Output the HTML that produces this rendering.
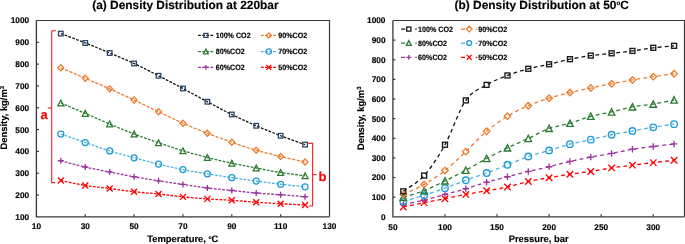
<!DOCTYPE html><html><head><meta charset="utf-8"><style>html,body{margin:0;padding:0;background:#fff;overflow:hidden}svg{display:block;will-change:transform}text{font-family:"Liberation Sans",sans-serif;font-weight:bold;text-rendering:geometricPrecision;stroke:#000;stroke-width:0.15px}</style></head><body>
<svg width="685" height="244" viewBox="0 0 685 244">
<rect width="685" height="244" fill="#fff"/>
<text x="185.4" y="8.6" font-size="11.9" text-anchor="middle" fill="#000">(a) Density Distribution at 220bar</text>
<text x="541.7" y="9.3" font-size="11.9" text-anchor="middle" fill="#000">(b) Density Distribution at 50<tspan font-size="6.2" dy="-4.1">o</tspan><tspan dy="4.1">C</tspan></text>
<path d="M36.4 20.5H329.5V216.8" fill="none" stroke="#383838" stroke-width="1.2"/>
<path d="M36.4 20.5V216.8H329.5" fill="none" stroke="#383838" stroke-width="1.3"/>
<path d="M36.4 194.99h2.5" stroke="#383838" stroke-width="1.2"/>
<path d="M36.4 173.18h2.5" stroke="#383838" stroke-width="1.2"/>
<path d="M36.4 151.37h2.5" stroke="#383838" stroke-width="1.2"/>
<path d="M36.4 129.56h2.5" stroke="#383838" stroke-width="1.2"/>
<path d="M36.4 107.74h2.5" stroke="#383838" stroke-width="1.2"/>
<path d="M36.4 85.93h2.5" stroke="#383838" stroke-width="1.2"/>
<path d="M36.4 64.12h2.5" stroke="#383838" stroke-width="1.2"/>
<path d="M36.4 42.31h2.5" stroke="#383838" stroke-width="1.2"/>
<path d="M85.25 216.8v-2.6" stroke="#383838" stroke-width="1.2"/>
<path d="M134.10 216.8v-2.6" stroke="#383838" stroke-width="1.2"/>
<path d="M182.95 216.8v-2.6" stroke="#383838" stroke-width="1.2"/>
<path d="M231.80 216.8v-2.6" stroke="#383838" stroke-width="1.2"/>
<path d="M280.65 216.8v-2.6" stroke="#383838" stroke-width="1.2"/>
<text x="29.2" y="219.75" font-size="8.3" text-anchor="end">100</text>
<text x="29.2" y="197.94" font-size="8.3" text-anchor="end">200</text>
<text x="29.2" y="176.13" font-size="8.3" text-anchor="end">300</text>
<text x="29.2" y="154.32" font-size="8.3" text-anchor="end">400</text>
<text x="29.2" y="132.51" font-size="8.3" text-anchor="end">500</text>
<text x="29.2" y="110.69" font-size="8.3" text-anchor="end">600</text>
<text x="29.2" y="88.88" font-size="8.3" text-anchor="end">700</text>
<text x="29.2" y="67.07" font-size="8.3" text-anchor="end">800</text>
<text x="29.2" y="45.26" font-size="8.3" text-anchor="end">900</text>
<text x="29.2" y="23.45" font-size="8.3" text-anchor="end">1000</text>
<text x="36.40" y="229.4" font-size="8.3" text-anchor="middle">10</text>
<text x="85.25" y="229.4" font-size="8.3" text-anchor="middle">30</text>
<text x="134.10" y="229.4" font-size="8.3" text-anchor="middle">50</text>
<text x="182.95" y="229.4" font-size="8.3" text-anchor="middle">70</text>
<text x="231.80" y="229.4" font-size="8.3" text-anchor="middle">90</text>
<text x="280.65" y="229.4" font-size="8.3" text-anchor="middle">110</text>
<text x="329.50" y="229.4" font-size="8.3" text-anchor="middle">130</text>
<text x="182.8" y="241.9" font-size="9.4" text-anchor="middle">Temperature, <tspan font-size="5" dy="-3.3">o</tspan><tspan dy="3.3">C</tspan></text>
<text transform="translate(6.9 117.7) rotate(-90)" font-size="9.4" text-anchor="middle">Density, kg/m<tspan font-size="6" dy="-3.3">3</tspan></text>
<path d="M392.9 20.5H684.5V216.8" fill="none" stroke="#383838" stroke-width="1.2"/>
<path d="M392.9 20.5V216.8H684.5" fill="none" stroke="#383838" stroke-width="1.3"/>
<path d="M392.9 197.17h2.5" stroke="#383838" stroke-width="1.2"/>
<path d="M392.9 177.54h2.5" stroke="#383838" stroke-width="1.2"/>
<path d="M392.9 157.91h2.5" stroke="#383838" stroke-width="1.2"/>
<path d="M392.9 138.28h2.5" stroke="#383838" stroke-width="1.2"/>
<path d="M392.9 118.65h2.5" stroke="#383838" stroke-width="1.2"/>
<path d="M392.9 99.02h2.5" stroke="#383838" stroke-width="1.2"/>
<path d="M392.9 79.39h2.5" stroke="#383838" stroke-width="1.2"/>
<path d="M392.9 59.76h2.5" stroke="#383838" stroke-width="1.2"/>
<path d="M392.9 40.13h2.5" stroke="#383838" stroke-width="1.2"/>
<path d="M444.97 216.8v-2.6" stroke="#383838" stroke-width="1.2"/>
<path d="M497.04 216.8v-2.6" stroke="#383838" stroke-width="1.2"/>
<path d="M549.11 216.8v-2.6" stroke="#383838" stroke-width="1.2"/>
<path d="M601.19 216.8v-2.6" stroke="#383838" stroke-width="1.2"/>
<path d="M653.26 216.8v-2.6" stroke="#383838" stroke-width="1.2"/>
<text x="385.5" y="219.75" font-size="8.3" text-anchor="end">0</text>
<text x="385.5" y="200.12" font-size="8.3" text-anchor="end">100</text>
<text x="385.5" y="180.49" font-size="8.3" text-anchor="end">200</text>
<text x="385.5" y="160.86" font-size="8.3" text-anchor="end">300</text>
<text x="385.5" y="141.23" font-size="8.3" text-anchor="end">400</text>
<text x="385.5" y="121.60" font-size="8.3" text-anchor="end">500</text>
<text x="385.5" y="101.97" font-size="8.3" text-anchor="end">600</text>
<text x="385.5" y="82.34" font-size="8.3" text-anchor="end">700</text>
<text x="385.5" y="62.71" font-size="8.3" text-anchor="end">800</text>
<text x="385.5" y="43.08" font-size="8.3" text-anchor="end">900</text>
<text x="385.5" y="23.45" font-size="8.3" text-anchor="end">1000</text>
<text x="392.90" y="229.7" font-size="8.3" text-anchor="middle">50</text>
<text x="444.97" y="229.7" font-size="8.3" text-anchor="middle">100</text>
<text x="497.04" y="229.7" font-size="8.3" text-anchor="middle">150</text>
<text x="549.11" y="229.7" font-size="8.3" text-anchor="middle">200</text>
<text x="601.19" y="229.7" font-size="8.3" text-anchor="middle">250</text>
<text x="653.26" y="229.7" font-size="8.3" text-anchor="middle">300</text>
<text x="538.6" y="241.9" font-size="9.4" text-anchor="middle">Pressure, bar</text>
<text transform="translate(363.9 118.3) rotate(-90)" font-size="9.4" text-anchor="middle">Density, kg/m<tspan font-size="6" dy="-3.3">3</tspan></text>
<path d="M60.83 180.50C64.90 181.33 77.11 184.17 85.25 185.50C93.39 186.83 101.53 187.46 109.68 188.50C117.82 189.54 125.96 190.83 134.10 191.75C142.24 192.67 150.38 193.14 158.53 194.00C166.67 194.86 174.81 196.08 182.95 196.90C191.09 197.72 199.23 198.33 207.38 198.90C215.52 199.47 223.66 199.74 231.80 200.30C239.94 200.86 248.08 201.68 256.23 202.25C264.37 202.82 272.51 203.29 280.65 203.75C288.79 204.21 301.00 204.79 305.07 205.00" fill="none" stroke="#FF0000" stroke-width="1.3" stroke-dasharray="2.7 1.4"/>
<path d="M60.83 160.75C64.90 161.79 77.11 165.12 85.25 167.00C93.39 168.88 101.53 170.38 109.68 172.00C117.82 173.62 125.96 175.28 134.10 176.75C142.24 178.22 150.38 179.53 158.53 180.80C166.67 182.08 174.81 183.20 182.95 184.40C191.09 185.60 199.23 186.98 207.38 188.00C215.52 189.02 223.66 189.67 231.80 190.50C239.94 191.33 248.08 192.29 256.23 193.00C264.37 193.71 272.51 194.12 280.65 194.75C288.79 195.38 301.00 196.42 305.07 196.75" fill="none" stroke="#9C31A0" stroke-width="1.3" stroke-dasharray="2.7 1.4"/>
<path d="M60.83 134.00C64.90 135.42 77.11 139.68 85.25 142.50C93.39 145.32 101.53 148.36 109.68 150.90C117.82 153.44 125.96 155.55 134.10 157.75C142.24 159.95 150.38 162.12 158.53 164.10C166.67 166.07 174.81 167.98 182.95 169.60C191.09 171.22 199.23 172.45 207.38 173.80C215.52 175.15 223.66 176.50 231.80 177.70C239.94 178.90 248.08 179.91 256.23 181.00C264.37 182.09 272.51 183.28 280.65 184.25C288.79 185.22 301.00 186.38 305.07 186.80" fill="none" stroke="#4DB0E4" stroke-width="1.3" stroke-dasharray="2.7 1.4"/>
<path d="M60.83 103.00C64.90 104.73 77.11 109.90 85.25 113.40C93.39 116.90 101.53 120.57 109.68 124.00C117.82 127.43 125.96 130.88 134.10 134.00C142.24 137.12 150.38 139.96 158.53 142.75C166.67 145.54 174.81 148.29 182.95 150.75C191.09 153.21 199.23 155.42 207.38 157.50C215.52 159.58 223.66 161.50 231.80 163.25C239.94 165.00 248.08 166.46 256.23 168.00C264.37 169.54 272.51 171.21 280.65 172.50C288.79 173.79 301.00 175.21 305.07 175.75" fill="none" stroke="#2B7B30" stroke-width="1.3" stroke-dasharray="2.7 1.4"/>
<path d="M60.83 67.75C64.90 69.50 77.11 74.74 85.25 78.25C93.39 81.76 101.53 85.17 109.68 88.80C117.82 92.42 125.96 96.17 134.10 100.00C142.24 103.83 150.38 107.88 158.53 111.75C166.67 115.62 174.81 119.67 182.95 123.25C191.09 126.83 199.23 130.08 207.38 133.25C215.52 136.42 223.66 139.42 231.80 142.25C239.94 145.08 248.08 147.88 256.23 150.25C264.37 152.62 272.51 154.54 280.65 156.50C288.79 158.46 301.00 161.08 305.07 162.00" fill="none" stroke="#ED7D31" stroke-width="1.3" stroke-dasharray="3.3 1.4"/>
<path d="M60.83 33.60C64.90 35.17 77.11 39.77 85.25 43.00C93.39 46.23 101.53 49.58 109.68 53.00C117.82 56.42 125.96 59.71 134.10 63.50C142.24 67.29 150.38 71.58 158.53 75.75C166.67 79.92 174.81 84.17 182.95 88.50C191.09 92.83 199.23 97.42 207.38 101.75C215.52 106.08 223.66 110.50 231.80 114.50C239.94 118.50 248.08 122.21 256.23 125.75C264.37 129.29 272.51 132.61 280.65 135.75C288.79 138.89 301.00 143.12 305.07 144.60" fill="none" stroke="#111" stroke-width="1.3" stroke-dasharray="2.7 1.4"/>
<path d="M57.83 177.50L63.83 183.50M63.83 177.50L57.83 183.50" stroke="#FF0000" stroke-width="1.3"/>
<path d="M82.25 182.50L88.25 188.50M88.25 182.50L82.25 188.50" stroke="#FF0000" stroke-width="1.3"/>
<path d="M106.68 185.50L112.68 191.50M112.68 185.50L106.68 191.50" stroke="#FF0000" stroke-width="1.3"/>
<path d="M131.10 188.75L137.10 194.75M137.10 188.75L131.10 194.75" stroke="#FF0000" stroke-width="1.3"/>
<path d="M155.53 191.00L161.53 197.00M161.53 191.00L155.53 197.00" stroke="#FF0000" stroke-width="1.3"/>
<path d="M179.95 193.90L185.95 199.90M185.95 193.90L179.95 199.90" stroke="#FF0000" stroke-width="1.3"/>
<path d="M204.38 195.90L210.38 201.90M210.38 195.90L204.38 201.90" stroke="#FF0000" stroke-width="1.3"/>
<path d="M228.80 197.30L234.80 203.30M234.80 197.30L228.80 203.30" stroke="#FF0000" stroke-width="1.3"/>
<path d="M253.23 199.25L259.23 205.25M259.23 199.25L253.23 205.25" stroke="#FF0000" stroke-width="1.3"/>
<path d="M277.65 200.75L283.65 206.75M283.65 200.75L277.65 206.75" stroke="#FF0000" stroke-width="1.3"/>
<path d="M302.07 202.00L308.07 208.00M308.07 202.00L302.07 208.00" stroke="#FF0000" stroke-width="1.3"/>
<path d="M57.83 160.75H63.83M60.83 157.75V163.75" stroke="#9C31A0" stroke-width="1.3"/>
<path d="M82.25 167.00H88.25M85.25 164.00V170.00" stroke="#9C31A0" stroke-width="1.3"/>
<path d="M106.68 172.00H112.68M109.68 169.00V175.00" stroke="#9C31A0" stroke-width="1.3"/>
<path d="M131.10 176.75H137.10M134.10 173.75V179.75" stroke="#9C31A0" stroke-width="1.3"/>
<path d="M155.53 180.80H161.53M158.53 177.80V183.80" stroke="#9C31A0" stroke-width="1.3"/>
<path d="M179.95 184.40H185.95M182.95 181.40V187.40" stroke="#9C31A0" stroke-width="1.3"/>
<path d="M204.38 188.00H210.38M207.38 185.00V191.00" stroke="#9C31A0" stroke-width="1.3"/>
<path d="M228.80 190.50H234.80M231.80 187.50V193.50" stroke="#9C31A0" stroke-width="1.3"/>
<path d="M253.23 193.00H259.23M256.23 190.00V196.00" stroke="#9C31A0" stroke-width="1.3"/>
<path d="M277.65 194.75H283.65M280.65 191.75V197.75" stroke="#9C31A0" stroke-width="1.3"/>
<path d="M302.07 196.75H308.07M305.07 193.75V199.75" stroke="#9C31A0" stroke-width="1.3"/>
<circle cx="60.83" cy="134.00" r="3.00" fill="none" stroke="#1E9BD7" stroke-width="1.25"/>
<circle cx="85.25" cy="142.50" r="3.00" fill="none" stroke="#1E9BD7" stroke-width="1.25"/>
<circle cx="109.68" cy="150.90" r="3.00" fill="none" stroke="#1E9BD7" stroke-width="1.25"/>
<circle cx="134.10" cy="157.75" r="3.00" fill="none" stroke="#1E9BD7" stroke-width="1.25"/>
<circle cx="158.53" cy="164.10" r="3.00" fill="none" stroke="#1E9BD7" stroke-width="1.25"/>
<circle cx="182.95" cy="169.60" r="3.00" fill="none" stroke="#1E9BD7" stroke-width="1.25"/>
<circle cx="207.38" cy="173.80" r="3.00" fill="none" stroke="#1E9BD7" stroke-width="1.25"/>
<circle cx="231.80" cy="177.70" r="3.00" fill="none" stroke="#1E9BD7" stroke-width="1.25"/>
<circle cx="256.23" cy="181.00" r="3.00" fill="none" stroke="#1E9BD7" stroke-width="1.25"/>
<circle cx="280.65" cy="184.25" r="3.00" fill="none" stroke="#1E9BD7" stroke-width="1.25"/>
<circle cx="305.07" cy="186.80" r="3.00" fill="none" stroke="#1E9BD7" stroke-width="1.25"/>
<path d="M60.83 100.00L63.83 105.85L57.83 105.85Z" fill="none" stroke="#2B7B30" stroke-width="1.25" stroke-linejoin="miter"/>
<path d="M85.25 110.40L88.25 116.25L82.25 116.25Z" fill="none" stroke="#2B7B30" stroke-width="1.25" stroke-linejoin="miter"/>
<path d="M109.68 121.00L112.68 126.85L106.68 126.85Z" fill="none" stroke="#2B7B30" stroke-width="1.25" stroke-linejoin="miter"/>
<path d="M134.10 131.00L137.10 136.85L131.10 136.85Z" fill="none" stroke="#2B7B30" stroke-width="1.25" stroke-linejoin="miter"/>
<path d="M158.53 139.75L161.53 145.60L155.53 145.60Z" fill="none" stroke="#2B7B30" stroke-width="1.25" stroke-linejoin="miter"/>
<path d="M182.95 147.75L185.95 153.60L179.95 153.60Z" fill="none" stroke="#2B7B30" stroke-width="1.25" stroke-linejoin="miter"/>
<path d="M207.38 154.50L210.38 160.35L204.38 160.35Z" fill="none" stroke="#2B7B30" stroke-width="1.25" stroke-linejoin="miter"/>
<path d="M231.80 160.25L234.80 166.10L228.80 166.10Z" fill="none" stroke="#2B7B30" stroke-width="1.25" stroke-linejoin="miter"/>
<path d="M256.23 165.00L259.23 170.85L253.23 170.85Z" fill="none" stroke="#2B7B30" stroke-width="1.25" stroke-linejoin="miter"/>
<path d="M280.65 169.50L283.65 175.35L277.65 175.35Z" fill="none" stroke="#2B7B30" stroke-width="1.25" stroke-linejoin="miter"/>
<path d="M305.07 172.75L308.07 178.60L302.07 178.60Z" fill="none" stroke="#2B7B30" stroke-width="1.25" stroke-linejoin="miter"/>
<path d="M60.83 64.75L63.83 67.75L60.83 70.75L57.83 67.75Z" fill="none" stroke="#ED7D31" stroke-width="1.25"/>
<path d="M85.25 75.25L88.25 78.25L85.25 81.25L82.25 78.25Z" fill="none" stroke="#ED7D31" stroke-width="1.25"/>
<path d="M109.68 85.80L112.68 88.80L109.68 91.80L106.68 88.80Z" fill="none" stroke="#ED7D31" stroke-width="1.25"/>
<path d="M134.10 97.00L137.10 100.00L134.10 103.00L131.10 100.00Z" fill="none" stroke="#ED7D31" stroke-width="1.25"/>
<path d="M158.53 108.75L161.53 111.75L158.53 114.75L155.53 111.75Z" fill="none" stroke="#ED7D31" stroke-width="1.25"/>
<path d="M182.95 120.25L185.95 123.25L182.95 126.25L179.95 123.25Z" fill="none" stroke="#ED7D31" stroke-width="1.25"/>
<path d="M207.38 130.25L210.38 133.25L207.38 136.25L204.38 133.25Z" fill="none" stroke="#ED7D31" stroke-width="1.25"/>
<path d="M231.80 139.25L234.80 142.25L231.80 145.25L228.80 142.25Z" fill="none" stroke="#ED7D31" stroke-width="1.25"/>
<path d="M256.23 147.25L259.23 150.25L256.23 153.25L253.23 150.25Z" fill="none" stroke="#ED7D31" stroke-width="1.25"/>
<path d="M280.65 153.50L283.65 156.50L280.65 159.50L277.65 156.50Z" fill="none" stroke="#ED7D31" stroke-width="1.25"/>
<path d="M305.07 159.00L308.07 162.00L305.07 165.00L302.07 162.00Z" fill="none" stroke="#ED7D31" stroke-width="1.25"/>
<rect x="58.53" y="31.30" width="4.60" height="4.60" fill="none" stroke="#233F62" stroke-width="1.25"/>
<rect x="82.95" y="40.70" width="4.60" height="4.60" fill="none" stroke="#233F62" stroke-width="1.25"/>
<rect x="107.38" y="50.70" width="4.60" height="4.60" fill="none" stroke="#233F62" stroke-width="1.25"/>
<rect x="131.80" y="61.20" width="4.60" height="4.60" fill="none" stroke="#233F62" stroke-width="1.25"/>
<rect x="156.22" y="73.45" width="4.60" height="4.60" fill="none" stroke="#233F62" stroke-width="1.25"/>
<rect x="180.65" y="86.20" width="4.60" height="4.60" fill="none" stroke="#233F62" stroke-width="1.25"/>
<rect x="205.07" y="99.45" width="4.60" height="4.60" fill="none" stroke="#233F62" stroke-width="1.25"/>
<rect x="229.50" y="112.20" width="4.60" height="4.60" fill="none" stroke="#233F62" stroke-width="1.25"/>
<rect x="253.93" y="123.45" width="4.60" height="4.60" fill="none" stroke="#233F62" stroke-width="1.25"/>
<rect x="278.35" y="133.45" width="4.60" height="4.60" fill="none" stroke="#233F62" stroke-width="1.25"/>
<rect x="302.77" y="142.30" width="4.60" height="4.60" fill="none" stroke="#233F62" stroke-width="1.25"/>
<path d="M403.31 206.99C406.79 206.27 417.20 204.04 424.14 202.67C431.09 201.29 438.03 200.11 444.97 198.74C451.91 197.37 458.86 195.76 465.80 194.42C472.74 193.08 479.69 191.94 486.63 190.69C493.57 189.45 500.51 188.50 507.46 186.96C514.40 185.42 521.34 183.00 528.29 181.47C535.23 179.93 542.17 178.95 549.11 177.74C556.06 176.53 563.00 175.25 569.94 174.20C576.89 173.16 583.83 172.50 590.77 171.45C597.71 170.41 604.66 168.97 611.60 167.92C618.54 166.87 625.49 166.06 632.43 165.17C639.37 164.29 646.31 163.44 653.26 162.62C660.20 161.80 670.61 160.66 674.09 160.27" fill="none" stroke="#FF0000" stroke-width="1.3" stroke-dasharray="3.8 3.2"/>
<path d="M403.31 204.43C406.79 203.71 417.20 201.78 424.14 200.11C431.09 198.45 438.03 196.32 444.97 194.42C451.91 192.52 458.86 190.76 465.80 188.73C472.74 186.70 479.69 184.25 486.63 182.25C493.57 180.26 500.51 178.55 507.46 176.75C514.40 174.96 521.34 173.12 528.29 171.45C535.23 169.79 542.17 168.41 549.11 166.74C556.06 165.07 563.00 163.05 569.94 161.44C576.89 159.84 583.83 158.47 590.77 157.12C597.71 155.78 604.66 154.70 611.60 153.40C618.54 152.09 625.49 150.42 632.43 149.27C639.37 148.13 646.31 147.41 653.26 146.52C660.20 145.64 670.61 144.40 674.09 143.97" fill="none" stroke="#9C31A0" stroke-width="1.3" stroke-dasharray="3.8 3.2"/>
<path d="M403.31 201.49C406.79 200.44 417.20 197.43 424.14 195.21C431.09 192.98 438.03 190.63 444.97 188.14C451.91 185.65 458.86 182.81 465.80 180.29C472.74 177.77 479.69 175.61 486.63 173.03C493.57 170.44 500.51 167.53 507.46 164.78C514.40 162.03 521.34 158.92 528.29 156.54C535.23 154.15 542.17 152.51 549.11 150.45C556.06 148.39 563.00 145.97 569.94 144.17C576.89 142.37 583.83 141.22 590.77 139.65C597.71 138.08 604.66 136.19 611.60 134.75C618.54 133.31 625.49 132.26 632.43 131.02C639.37 129.77 646.31 128.43 653.26 127.29C660.20 126.14 670.61 124.67 674.09 124.15" fill="none" stroke="#4DB0E4" stroke-width="1.3" stroke-dasharray="3.8 3.2"/>
<path d="M403.31 197.17C406.79 196.09 417.20 193.41 424.14 190.69C431.09 187.98 438.03 184.28 444.97 180.88C451.91 177.47 458.86 174.01 465.80 170.28C472.74 166.55 479.69 162.23 486.63 158.50C493.57 154.77 500.51 151.24 507.46 147.90C514.40 144.56 521.34 141.72 528.29 138.48C535.23 135.24 542.17 130.98 549.11 128.47C556.06 125.95 563.00 125.39 569.94 123.36C576.89 121.33 583.83 118.19 590.77 116.29C597.71 114.40 604.66 113.55 611.60 111.98C618.54 110.41 625.49 108.18 632.43 106.87C639.37 105.56 646.31 105.27 653.26 104.12C660.20 102.98 670.61 100.69 674.09 100.00" fill="none" stroke="#2B7B30" stroke-width="1.3" stroke-dasharray="3.8 3.2"/>
<path d="M403.31 194.42C406.79 192.75 417.20 188.40 424.14 184.41C431.09 180.42 438.03 175.94 444.97 170.47C451.91 165.01 458.86 158.17 465.80 151.63C472.74 145.09 479.69 137.10 486.63 131.21C493.57 125.32 500.51 120.55 507.46 116.29C514.40 112.04 521.34 108.70 528.29 105.69C535.23 102.68 542.17 100.43 549.11 98.23C556.06 96.04 563.00 94.24 569.94 92.54C576.89 90.84 583.83 89.50 590.77 88.03C597.71 86.55 604.66 85.05 611.60 83.71C618.54 82.37 625.49 81.16 632.43 79.98C639.37 78.80 646.31 77.69 653.26 76.64C660.20 75.59 670.61 74.19 674.09 73.70" fill="none" stroke="#ED7D31" stroke-width="1.3" stroke-dasharray="3.8 3.2"/>
<path d="M403.31 191.28C406.79 188.66 417.20 183.33 424.14 175.58C431.09 167.82 438.03 157.29 444.97 144.76C451.91 132.23 458.86 110.37 465.80 100.39C472.74 90.42 479.69 89.04 486.63 84.89C493.57 80.73 500.51 78.15 507.46 75.46C514.40 72.78 521.34 70.65 528.29 68.79C535.23 66.92 542.17 65.88 549.11 64.27C556.06 62.67 563.00 60.61 569.94 59.17C576.89 57.73 583.83 56.62 590.77 55.64C597.71 54.66 604.66 54.07 611.60 53.28C618.54 52.50 625.49 51.84 632.43 50.93C639.37 50.01 646.31 48.64 653.26 47.79C660.20 46.94 670.61 46.15 674.09 45.82" fill="none" stroke="#111" stroke-width="1.3" stroke-dasharray="3.8 3.2"/>
<path d="M400.07 203.75L406.55 210.23M406.55 203.75L400.07 210.23" stroke="#FF0000" stroke-width="1.3"/>
<path d="M420.90 199.43L427.38 205.91M427.38 199.43L420.90 205.91" stroke="#FF0000" stroke-width="1.3"/>
<path d="M441.73 195.50L448.21 201.98M448.21 195.50L441.73 201.98" stroke="#FF0000" stroke-width="1.3"/>
<path d="M462.56 191.18L469.04 197.66M469.04 191.18L462.56 197.66" stroke="#FF0000" stroke-width="1.3"/>
<path d="M483.39 187.45L489.87 193.93M489.87 187.45L483.39 193.93" stroke="#FF0000" stroke-width="1.3"/>
<path d="M504.22 183.72L510.70 190.20M510.70 183.72L504.22 190.20" stroke="#FF0000" stroke-width="1.3"/>
<path d="M525.05 178.23L531.53 184.71M531.53 178.23L525.05 184.71" stroke="#FF0000" stroke-width="1.3"/>
<path d="M545.87 174.50L552.35 180.98M552.35 174.50L545.87 180.98" stroke="#FF0000" stroke-width="1.3"/>
<path d="M566.70 170.96L573.18 177.44M573.18 170.96L566.70 177.44" stroke="#FF0000" stroke-width="1.3"/>
<path d="M587.53 168.21L594.01 174.69M594.01 168.21L587.53 174.69" stroke="#FF0000" stroke-width="1.3"/>
<path d="M608.36 164.68L614.84 171.16M614.84 164.68L608.36 171.16" stroke="#FF0000" stroke-width="1.3"/>
<path d="M629.19 161.93L635.67 168.41M635.67 161.93L629.19 168.41" stroke="#FF0000" stroke-width="1.3"/>
<path d="M650.02 159.38L656.50 165.86M656.50 159.38L650.02 165.86" stroke="#FF0000" stroke-width="1.3"/>
<path d="M670.85 157.03L677.33 163.51M677.33 157.03L670.85 163.51" stroke="#FF0000" stroke-width="1.3"/>
<path d="M400.07 204.43H406.55M403.31 201.19V207.67" stroke="#9C31A0" stroke-width="1.3"/>
<path d="M420.90 200.11H427.38M424.14 196.87V203.35" stroke="#9C31A0" stroke-width="1.3"/>
<path d="M441.73 194.42H448.21M444.97 191.18V197.66" stroke="#9C31A0" stroke-width="1.3"/>
<path d="M462.56 188.73H469.04M465.80 185.49V191.97" stroke="#9C31A0" stroke-width="1.3"/>
<path d="M483.39 182.25H489.87M486.63 179.01V185.49" stroke="#9C31A0" stroke-width="1.3"/>
<path d="M504.22 176.75H510.70M507.46 173.51V179.99" stroke="#9C31A0" stroke-width="1.3"/>
<path d="M525.05 171.45H531.53M528.29 168.21V174.69" stroke="#9C31A0" stroke-width="1.3"/>
<path d="M545.87 166.74H552.35M549.11 163.50V169.98" stroke="#9C31A0" stroke-width="1.3"/>
<path d="M566.70 161.44H573.18M569.94 158.20V164.68" stroke="#9C31A0" stroke-width="1.3"/>
<path d="M587.53 157.12H594.01M590.77 153.88V160.36" stroke="#9C31A0" stroke-width="1.3"/>
<path d="M608.36 153.40H614.84M611.60 150.16V156.64" stroke="#9C31A0" stroke-width="1.3"/>
<path d="M629.19 149.27H635.67M632.43 146.03V152.51" stroke="#9C31A0" stroke-width="1.3"/>
<path d="M650.02 146.52H656.50M653.26 143.28V149.76" stroke="#9C31A0" stroke-width="1.3"/>
<path d="M670.85 143.97H677.33M674.09 140.73V147.21" stroke="#9C31A0" stroke-width="1.3"/>
<circle cx="403.31" cy="201.49" r="3.24" fill="none" stroke="#1E9BD7" stroke-width="1.35"/>
<circle cx="424.14" cy="195.21" r="3.24" fill="none" stroke="#1E9BD7" stroke-width="1.35"/>
<circle cx="444.97" cy="188.14" r="3.24" fill="none" stroke="#1E9BD7" stroke-width="1.35"/>
<circle cx="465.80" cy="180.29" r="3.24" fill="none" stroke="#1E9BD7" stroke-width="1.35"/>
<circle cx="486.63" cy="173.03" r="3.24" fill="none" stroke="#1E9BD7" stroke-width="1.35"/>
<circle cx="507.46" cy="164.78" r="3.24" fill="none" stroke="#1E9BD7" stroke-width="1.35"/>
<circle cx="528.29" cy="156.54" r="3.24" fill="none" stroke="#1E9BD7" stroke-width="1.35"/>
<circle cx="549.11" cy="150.45" r="3.24" fill="none" stroke="#1E9BD7" stroke-width="1.35"/>
<circle cx="569.94" cy="144.17" r="3.24" fill="none" stroke="#1E9BD7" stroke-width="1.35"/>
<circle cx="590.77" cy="139.65" r="3.24" fill="none" stroke="#1E9BD7" stroke-width="1.35"/>
<circle cx="611.60" cy="134.75" r="3.24" fill="none" stroke="#1E9BD7" stroke-width="1.35"/>
<circle cx="632.43" cy="131.02" r="3.24" fill="none" stroke="#1E9BD7" stroke-width="1.35"/>
<circle cx="653.26" cy="127.29" r="3.24" fill="none" stroke="#1E9BD7" stroke-width="1.35"/>
<circle cx="674.09" cy="124.15" r="3.24" fill="none" stroke="#1E9BD7" stroke-width="1.35"/>
<path d="M403.31 193.93L406.55 200.25L400.07 200.25Z" fill="none" stroke="#2B7B30" stroke-width="1.35" stroke-linejoin="miter"/>
<path d="M424.14 187.45L427.38 193.77L420.90 193.77Z" fill="none" stroke="#2B7B30" stroke-width="1.35" stroke-linejoin="miter"/>
<path d="M444.97 177.64L448.21 183.96L441.73 183.96Z" fill="none" stroke="#2B7B30" stroke-width="1.35" stroke-linejoin="miter"/>
<path d="M465.80 167.04L469.04 173.35L462.56 173.35Z" fill="none" stroke="#2B7B30" stroke-width="1.35" stroke-linejoin="miter"/>
<path d="M486.63 155.26L489.87 161.58L483.39 161.58Z" fill="none" stroke="#2B7B30" stroke-width="1.35" stroke-linejoin="miter"/>
<path d="M507.46 144.66L510.70 150.98L504.22 150.98Z" fill="none" stroke="#2B7B30" stroke-width="1.35" stroke-linejoin="miter"/>
<path d="M528.29 135.24L531.53 141.55L525.05 141.55Z" fill="none" stroke="#2B7B30" stroke-width="1.35" stroke-linejoin="miter"/>
<path d="M549.11 125.23L552.35 131.54L545.87 131.54Z" fill="none" stroke="#2B7B30" stroke-width="1.35" stroke-linejoin="miter"/>
<path d="M569.94 120.12L573.18 126.44L566.70 126.44Z" fill="none" stroke="#2B7B30" stroke-width="1.35" stroke-linejoin="miter"/>
<path d="M590.77 113.05L594.01 119.37L587.53 119.37Z" fill="none" stroke="#2B7B30" stroke-width="1.35" stroke-linejoin="miter"/>
<path d="M611.60 108.74L614.84 115.05L608.36 115.05Z" fill="none" stroke="#2B7B30" stroke-width="1.35" stroke-linejoin="miter"/>
<path d="M632.43 103.63L635.67 109.95L629.19 109.95Z" fill="none" stroke="#2B7B30" stroke-width="1.35" stroke-linejoin="miter"/>
<path d="M653.26 100.88L656.50 107.20L650.02 107.20Z" fill="none" stroke="#2B7B30" stroke-width="1.35" stroke-linejoin="miter"/>
<path d="M674.09 96.76L677.33 103.08L670.85 103.08Z" fill="none" stroke="#2B7B30" stroke-width="1.35" stroke-linejoin="miter"/>
<path d="M403.31 191.18L406.55 194.42L403.31 197.66L400.07 194.42Z" fill="none" stroke="#ED7D31" stroke-width="1.35"/>
<path d="M424.14 181.17L427.38 184.41L424.14 187.65L420.90 184.41Z" fill="none" stroke="#ED7D31" stroke-width="1.35"/>
<path d="M444.97 167.23L448.21 170.47L444.97 173.71L441.73 170.47Z" fill="none" stroke="#ED7D31" stroke-width="1.35"/>
<path d="M465.80 148.39L469.04 151.63L465.80 154.87L462.56 151.63Z" fill="none" stroke="#ED7D31" stroke-width="1.35"/>
<path d="M486.63 127.97L489.87 131.21L486.63 134.45L483.39 131.21Z" fill="none" stroke="#ED7D31" stroke-width="1.35"/>
<path d="M507.46 113.05L510.70 116.29L507.46 119.53L504.22 116.29Z" fill="none" stroke="#ED7D31" stroke-width="1.35"/>
<path d="M528.29 102.45L531.53 105.69L528.29 108.93L525.05 105.69Z" fill="none" stroke="#ED7D31" stroke-width="1.35"/>
<path d="M549.11 94.99L552.35 98.23L549.11 101.47L545.87 98.23Z" fill="none" stroke="#ED7D31" stroke-width="1.35"/>
<path d="M569.94 89.30L573.18 92.54L569.94 95.78L566.70 92.54Z" fill="none" stroke="#ED7D31" stroke-width="1.35"/>
<path d="M590.77 84.79L594.01 88.03L590.77 91.27L587.53 88.03Z" fill="none" stroke="#ED7D31" stroke-width="1.35"/>
<path d="M611.60 80.47L614.84 83.71L611.60 86.95L608.36 83.71Z" fill="none" stroke="#ED7D31" stroke-width="1.35"/>
<path d="M632.43 76.74L635.67 79.98L632.43 83.22L629.19 79.98Z" fill="none" stroke="#ED7D31" stroke-width="1.35"/>
<path d="M653.26 73.40L656.50 76.64L653.26 79.88L650.02 76.64Z" fill="none" stroke="#ED7D31" stroke-width="1.35"/>
<path d="M674.09 70.46L677.33 73.70L674.09 76.94L670.85 73.70Z" fill="none" stroke="#ED7D31" stroke-width="1.35"/>
<rect x="400.83" y="188.80" width="4.97" height="4.97" fill="none" stroke="#1a1a1a" stroke-width="1.35"/>
<rect x="421.66" y="173.09" width="4.97" height="4.97" fill="none" stroke="#1a1a1a" stroke-width="1.35"/>
<rect x="442.49" y="142.27" width="4.97" height="4.97" fill="none" stroke="#1a1a1a" stroke-width="1.35"/>
<rect x="463.32" y="97.91" width="4.97" height="4.97" fill="none" stroke="#1a1a1a" stroke-width="1.35"/>
<rect x="484.14" y="82.40" width="4.97" height="4.97" fill="none" stroke="#1a1a1a" stroke-width="1.35"/>
<rect x="504.97" y="72.98" width="4.97" height="4.97" fill="none" stroke="#1a1a1a" stroke-width="1.35"/>
<rect x="525.80" y="66.31" width="4.97" height="4.97" fill="none" stroke="#1a1a1a" stroke-width="1.35"/>
<rect x="546.63" y="61.79" width="4.97" height="4.97" fill="none" stroke="#1a1a1a" stroke-width="1.35"/>
<rect x="567.46" y="56.69" width="4.97" height="4.97" fill="none" stroke="#1a1a1a" stroke-width="1.35"/>
<rect x="588.29" y="53.15" width="4.97" height="4.97" fill="none" stroke="#1a1a1a" stroke-width="1.35"/>
<rect x="609.12" y="50.80" width="4.97" height="4.97" fill="none" stroke="#1a1a1a" stroke-width="1.35"/>
<rect x="629.94" y="48.44" width="4.97" height="4.97" fill="none" stroke="#1a1a1a" stroke-width="1.35"/>
<rect x="650.77" y="45.30" width="4.97" height="4.97" fill="none" stroke="#1a1a1a" stroke-width="1.35"/>
<rect x="671.60" y="43.34" width="4.97" height="4.97" fill="none" stroke="#1a1a1a" stroke-width="1.35"/>
<path d="M55.7 30.6 L51.7 31.0 V182.6 H55.2" fill="none" stroke="#FF2020" stroke-width="1.1"/>
<path d="M47.8 108 H51.7" stroke="#FF2020" stroke-width="1.1"/>
<text x="40.6" y="119.1" font-size="13" fill="#FF0000" style="stroke:#FF0000">a</text>
<path d="M308.3 143.4 H312.6 V206.0 H308.5" fill="none" stroke="#FF2020" stroke-width="1.1"/>
<path d="M312.6 174.6 H316.6" stroke="#FF2020" stroke-width="1.1"/>
<text x="318.6" y="180.6" font-size="13" fill="#FF0000" style="stroke:#FF0000">b</text>
<path d="M198.1 35.4H213.4" stroke="#111" stroke-width="1.25" stroke-dasharray="2.8 1.3"/>
<rect x="203.88" y="33.38" width="4.05" height="4.05" fill="none" stroke="#233F62" stroke-width="1.2"/>
<text x="215.7" y="38.15" font-size="7.7" textLength="34.97" lengthAdjust="spacingAndGlyphs" stroke="#000" stroke-width="0.2">100% CO2</text>
<path d="M260.9 35.4H276.4" stroke="#ED7D31" stroke-width="1.25" stroke-dasharray="2.8 1.3"/>
<path d="M268.80 32.76L271.44 35.40L268.80 38.04L266.16 35.40Z" fill="none" stroke="#ED7D31" stroke-width="1.2"/>
<text x="278.3" y="38.15" font-size="7.7" textLength="29.01" lengthAdjust="spacingAndGlyphs" stroke="#000" stroke-width="0.2">90%CO2</text>
<path d="M198.1 51.6H213.4" stroke="#2B7B30" stroke-width="1.25" stroke-dasharray="2.8 1.3"/>
<path d="M205.90 49.14L208.36 53.94L203.44 53.94Z" fill="none" stroke="#2B7B30" stroke-width="1.2" stroke-linejoin="miter"/>
<text x="215.7" y="54.35" font-size="7.7" textLength="29.01" lengthAdjust="spacingAndGlyphs" stroke="#000" stroke-width="0.2">80%CO2</text>
<path d="M260.9 51.6H276.4" stroke="#4DB0E4" stroke-width="1.25" stroke-dasharray="2.8 1.3"/>
<circle cx="268.80" cy="51.60" r="2.64" fill="none" stroke="#1E9BD7" stroke-width="1.2"/>
<text x="278.3" y="54.35" font-size="7.7" textLength="29.01" lengthAdjust="spacingAndGlyphs" stroke="#000" stroke-width="0.2">70%CO2</text>
<path d="M198.1 67.4H213.4" stroke="#9C31A0" stroke-width="1.25" stroke-dasharray="2.8 1.3"/>
<path d="M203.44 67.40H208.36M205.90 64.94V69.86" stroke="#9C31A0" stroke-width="1.3"/>
<text x="215.7" y="70.15" font-size="7.7" textLength="29.01" lengthAdjust="spacingAndGlyphs" stroke="#000" stroke-width="0.2">60%CO2</text>
<path d="M260.9 67.4H276.4" stroke="#FF0000" stroke-width="1.25" stroke-dasharray="2.8 1.3"/>
<path d="M266.34 64.94L271.26 69.86M271.26 64.94L266.34 69.86" stroke="#FF0000" stroke-width="1.3"/>
<text x="278.3" y="70.15" font-size="7.7" textLength="29.01" lengthAdjust="spacingAndGlyphs" stroke="#000" stroke-width="0.2">50%CO2</text>
<path d="M401.1 29.1H405.2M415.2 29.1h1.6" stroke="#1a1a1a" stroke-width="1.2"/>
<rect x="406.73" y="27.03" width="4.14" height="4.14" fill="none" stroke="#1a1a1a" stroke-width="1.3"/>
<text x="418.1" y="31.85" font-size="7.7" textLength="34.97" lengthAdjust="spacingAndGlyphs" stroke="#000" stroke-width="0.2">100% CO2</text>
<path d="M460.9 29.1H465.0M475.6 29.1h1.6" stroke="#ED7D31" stroke-width="1.2"/>
<path d="M469.20 26.25L472.05 29.10L469.20 31.95L466.35 29.10Z" fill="none" stroke="#ED7D31" stroke-width="1.3"/>
<text x="478.3" y="31.85" font-size="7.7" textLength="29.01" lengthAdjust="spacingAndGlyphs" stroke="#000" stroke-width="0.2">90%CO2</text>
<path d="M401.1 43.1H405.2M415.2 43.1h1.6" stroke="#2B7B30" stroke-width="1.2"/>
<path d="M408.80 40.64L411.26 45.44L406.34 45.44Z" fill="none" stroke="#2B7B30" stroke-width="1.3" stroke-linejoin="miter"/>
<text x="418.1" y="45.85" font-size="7.7" textLength="29.01" lengthAdjust="spacingAndGlyphs" stroke="#000" stroke-width="0.2">80%CO2</text>
<path d="M460.9 43.1H465.0M475.6 43.1h1.6" stroke="#4DB0E4" stroke-width="1.2"/>
<circle cx="469.20" cy="43.10" r="2.46" fill="none" stroke="#1E9BD7" stroke-width="1.3"/>
<text x="478.3" y="45.85" font-size="7.7" textLength="29.01" lengthAdjust="spacingAndGlyphs" stroke="#000" stroke-width="0.2">70%CO2</text>
<path d="M401.1 57.3H405.2M415.2 57.3h1.6" stroke="#9C31A0" stroke-width="1.2"/>
<path d="M406.40 57.30H411.20M408.80 54.90V59.70" stroke="#9C31A0" stroke-width="1.3"/>
<text x="418.1" y="60.05" font-size="7.7" textLength="29.01" lengthAdjust="spacingAndGlyphs" stroke="#000" stroke-width="0.2">60%CO2</text>
<path d="M460.9 57.3H465.0M475.6 57.3h1.6" stroke="#FF0000" stroke-width="1.2"/>
<path d="M466.80 54.90L471.60 59.70M471.60 54.90L466.80 59.70" stroke="#FF0000" stroke-width="1.3"/>
<text x="478.3" y="60.05" font-size="7.7" textLength="29.01" lengthAdjust="spacingAndGlyphs" stroke="#000" stroke-width="0.2">50%CO2</text>
</svg></body></html>
